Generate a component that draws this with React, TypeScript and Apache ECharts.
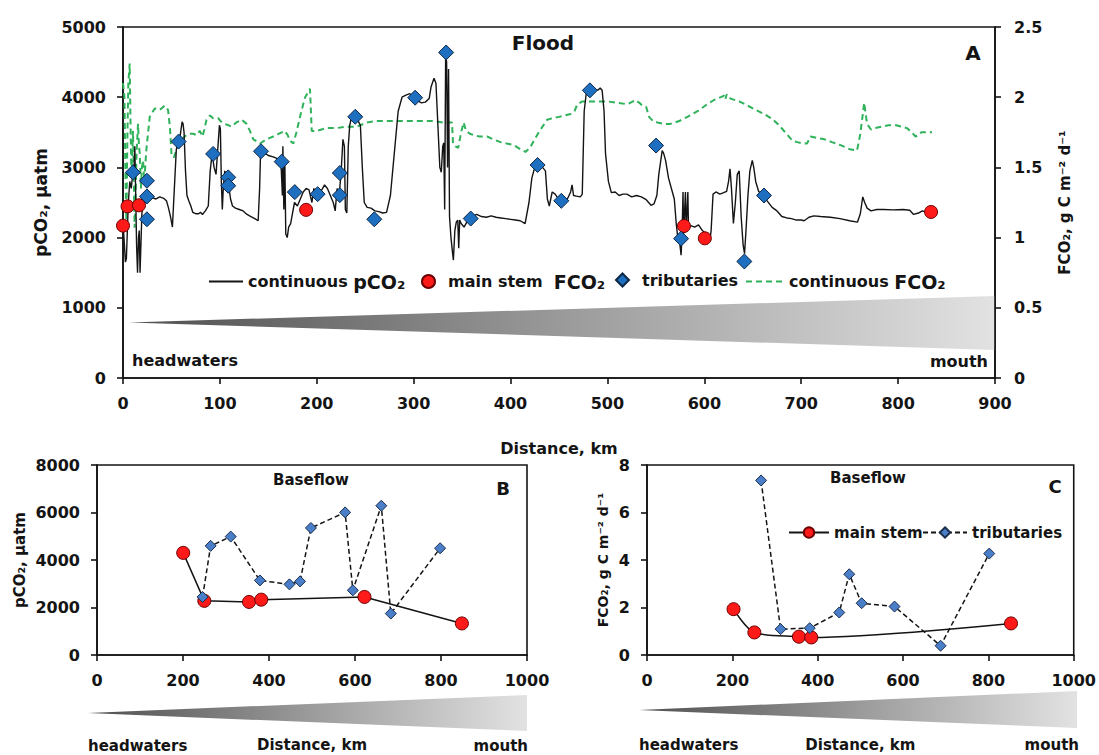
import React, { useEffect, useRef } from "react";
import * as echarts from "echarts";

// ---------- Panel A: flood survey (distance km, value) ----------
const floodPco2Line: [number, number][] = [
  [0, 2200], [1, 2000], [2.5, 1650], [3.5, 1700], [4.5, 2100], [5.5, 2500], [7, 2800], [8.5, 2700],
  [10, 2900], [11.5, 3050], [12.2, 3300], [13, 2700], [14, 1900], [15, 1500], [16, 2000], [16.8, 2100],
  [17.6, 1500], [18.5, 1900], [19.5, 2350], [21, 2450], [23, 2560], [26, 2580], [30, 2570], [34, 2550],
  [38, 2580], [42, 2560], [45, 2520], [47, 2420], [49, 2300], [51, 2150], [53, 2700], [55, 3250],
  [57, 3400], [59, 3450], [61, 3650], [62, 3620], [63, 3500], [64.5, 2950], [66, 2600], [68, 2520],
  [70, 2450], [72, 2360], [75, 2340], [78, 2340], [80, 2360], [82, 2330], [85, 2380], [88, 2450],
  [90, 2950], [92, 3200], [94, 3000], [96, 2900], [98, 3300], [99.5, 3600], [100.5, 3550], [101.5, 2800],
  [102.5, 2400], [103.5, 2700], [105, 2950], [107, 2880], [109, 2750], [111, 2550], [113, 2450], [116, 2420],
  [120, 2400], [124, 2380], [128, 2330], [132, 2300], [136, 2270], [139.5, 2240], [141, 2700], [142, 3230],
  [145, 3210], [150, 3170], [155, 3150], [160, 3120], [163, 3080], [164.5, 2600], [165, 3300], [166, 2400],
  [167, 3100], [168, 2050], [169.5, 2000], [171, 2150], [173, 2200], [175, 2350], [177, 2500], [180, 2450],
  [183, 2550], [186, 2650], [189, 2700], [192, 2680], [195, 2500], [197, 2700], [200, 2620], [204, 2650],
  [208, 2750], [211, 2700], [214, 2600], [217, 2500], [219, 2380], [221, 2700], [223, 2600], [225, 2900],
  [227, 3400], [228.5, 3300], [229.5, 2400], [231, 2350], [232.5, 3300], [234, 3600], [236, 3720], [239, 3700],
  [242, 3680], [245, 3600], [247, 3000], [249, 2500], [252, 2430], [256, 2420], [260, 2380], [264, 2370],
  [268, 2350], [272, 2360], [276, 2600], [280, 3200], [284, 3800], [288, 4000], [292, 4030], [296, 4050],
  [300, 4000], [304, 3950], [308, 3920], [312, 3930], [316, 3980], [318, 4150], [321, 4270], [323, 4200],
  [325, 3600], [327, 3000], [328.5, 2930], [330, 3300], [331, 3350], [332, 2400], [333, 4600], [334, 4500],
  [335, 3000], [336, 4400], [337, 2300], [338.5, 2000], [340, 1800], [341, 1680], [342.5, 2100], [344, 2220],
  [345.5, 2250], [346.5, 1850], [347.5, 2250], [349, 2200], [352, 2150], [356, 2250], [360, 2300], [365, 2330],
  [370, 2300], [375, 2290], [380, 2310], [385, 2290], [390, 2280], [395, 2270], [400, 2260], [405, 2250],
  [410, 2240], [415, 2200], [419, 2500], [422, 2850], [425, 3000], [430, 3050], [433, 3000], [436, 2950],
  [438, 2550], [440, 2450], [443, 2650], [446, 2620], [449, 2560], [452, 2540], [455, 2530], [459, 2560],
  [462, 2650], [463.5, 2750], [465, 2600], [468, 2590], [472, 2580], [474, 2620], [476, 3800], [478.5, 4100],
  [482, 4100], [486, 4110], [490, 4100], [492.5, 4130], [494.5, 4100], [496.5, 3800], [498, 3200], [501, 2800],
  [504, 2640], [508, 2650], [512, 2600], [516, 2620], [520, 2620], [525, 2580], [530, 2600], [535, 2580],
  [540, 2540], [545, 2460], [548, 2480], [551, 2600], [553, 2900], [556.5, 3240], [558, 3200], [560, 3100],
  [563, 2850], [566, 2700], [569, 2550], [571, 2200], [573, 1950], [574, 2000], [576, 1750], [577, 2050],
  [578, 2650], [578.6, 2050], [580.5, 2650], [581.2, 2100], [583, 2650], [583.6, 2150], [586, 2170], [590, 2150],
  [594, 2180], [598, 2100], [602, 2050], [604, 1960], [605.5, 1940], [607, 2100], [609, 2620], [612, 2650],
  [616, 2620], [620, 2640], [623, 2660], [625, 2800], [626.5, 2980], [628, 2700], [630, 2200], [632, 2500],
  [634, 2900], [636, 2950], [638, 2300], [640, 1900], [641.5, 1770], [643, 2100], [645, 2600], [647, 2950],
  [649.5, 3100], [651, 3000], [653, 2800], [656, 2660], [660, 2600], [665, 2520], [670, 2430], [675, 2380],
  [680, 2300], [685, 2280], [690, 2270], [695, 2250], [700, 2250], [703, 2240], [708, 2290], [713, 2310],
  [720, 2300], [730, 2290], [740, 2270], [750, 2240], [758, 2220], [761, 2340], [763.5, 2580], [765.5, 2500],
  [768, 2420], [772, 2380], [778, 2400], [785, 2400], [795, 2395], [805, 2400], [812, 2390], [816, 2330],
  [821, 2350], [825, 2380], [830, 2360], [834, 2370],
];

const floodFco2Line: [number, number][] = [
  [0, 2.1], [1.5, 2.0], [2.5, 1.45], [3.5, 1.12], [4.5, 1.7], [5.5, 2.1], [6.9, 2.24], [7.8, 1.8],
  [8.7, 1.43], [9.5, 1.6], [10.3, 1.76], [11.2, 1.4], [12, 1.07], [13, 1.3], [14, 1.6], [15.5, 1.81],
  [16.5, 1.65], [17.3, 1.6], [18.5, 1.35], [19.5, 1.5], [20.7, 1.55], [22, 1.4], [24, 1.62], [27.6, 1.86],
  [32.8, 1.92], [38, 1.91], [43, 1.94], [46.5, 1.91], [48.5, 1.78], [50, 1.6], [52.4, 1.57], [55, 1.62],
  [58.6, 1.67], [62, 1.71], [65.5, 1.73], [69, 1.74], [72.4, 1.74], [76, 1.73], [79.3, 1.76], [82, 1.72],
  [84, 1.77], [86.2, 1.84], [89.7, 1.87], [93, 1.85], [98.2, 1.85], [102, 1.82], [105, 1.81], [109, 1.8],
  [112, 1.79], [117, 1.82], [122.4, 1.84], [127.6, 1.81], [131, 1.76], [134.5, 1.7], [141.4, 1.67], [148, 1.7],
  [155, 1.72], [161, 1.74], [167, 1.76], [170, 1.73], [172.4, 1.69], [175.8, 1.67], [179, 1.75], [182.7, 1.86],
  [186, 1.95], [188, 2.0], [193, 2.06], [194.8, 1.76], [200, 1.76], [210, 1.78], [220, 1.78], [231, 1.79],
  [241, 1.79], [251.7, 1.82], [260, 1.83], [270, 1.83], [280, 1.83], [293, 1.83], [305, 1.83], [320, 1.83],
  [330, 1.82], [339.6, 1.82], [340.6, 1.67], [343, 1.65], [346, 1.64], [349, 1.75], [351.6, 1.82], [354, 1.76],
  [358, 1.74], [362, 1.73], [368, 1.72], [375.8, 1.72], [382, 1.7], [389.6, 1.68], [396, 1.67], [403, 1.66],
  [410, 1.63], [415.4, 1.61], [420, 1.64], [424, 1.69], [430, 1.76], [437.8, 1.84], [443, 1.85], [449.8, 1.86],
  [456, 1.87], [462, 1.88], [466, 1.9], [469, 1.95], [474, 1.97], [479, 1.97], [490, 1.97], [500, 1.97],
  [510, 1.96], [520.6, 1.95], [529, 1.98], [533, 1.96], [536, 1.94], [540, 1.93], [543, 1.86], [547, 1.83],
  [551.6, 1.82], [558, 1.81], [565, 1.81], [574, 1.83], [582.6, 1.86], [593, 1.9], [603, 1.95], [610, 1.98],
  [617, 2.0], [620, 2.01], [621, 2.02], [622, 1.99], [623, 2.02], [627, 1.99], [636, 1.97], [644.7, 1.94],
  [653, 1.91], [661.8, 1.88], [669, 1.85], [675.7, 1.81], [681, 1.77], [686, 1.73], [691, 1.69], [696, 1.68],
  [702, 1.67], [706, 1.67], [709.6, 1.72], [716, 1.71], [724, 1.7], [731.7, 1.68], [740, 1.66], [750, 1.63],
  [757.6, 1.62], [761, 1.74], [763, 1.85], [765, 1.96], [766.5, 1.88], [768, 1.81], [772, 1.77], [776, 1.78],
  [783, 1.79], [790, 1.8], [798, 1.8], [804, 1.79], [809, 1.78], [814, 1.75], [818, 1.72], [821, 1.73],
  [824, 1.75], [830, 1.75], [835, 1.75],
];

const floodMainKm = [0, 4.7, 16.5, 189, 579, 600.5, 834];
const floodMainPco2 = [2170, 2445, 2460, 2395, 2165, 1990, 2365];

const floodTribKm = [10.2, 24.7, 24.7, 24.7, 57.4, 93, 108.6, 108.6, 142.4, 163.8, 177.3, 200.9, 223.8,
  223.8, 239.7, 259.4, 301.5, 333.5, 358.9, 427.9, 452.4, 481.9, 550.2, 576, 641.3, 661.6];
const floodTribPco2 = [2929, 2810, 2586, 2261, 3368, 3192, 2858, 2739, 3230, 3082, 2648, 2619, 2920,
  2605, 3721, 2261, 3993, 4637, 2271, 3034, 2524, 4098, 3311, 1985, 1660, 2600];

// ---------- Panel B: baseflow pCO2 ----------
const baseMainKm = [200.5, 249.6, 353.5, 382, 622, 848.6];
const baseMainPco2 = [4300, 2280, 2235, 2330, 2445, 1330];
const baseTribKm = [245.5, 264.3, 311, 378.9, 447.6, 472.2, 497.5, 577, 595, 661.2, 683.3, 797.9];
const baseTribPco2 = [2445, 4595, 4985, 3140, 2975, 3100, 5350, 6005, 2725, 6285, 1745, 4495];

// ---------- Panel C: baseflow FCO2 ----------
const baseMainFco2Km = [202.8, 251.6, 356, 385, 853];
const baseMainFco2 = [1.93, 0.95, 0.77, 0.74, 1.33];
const baseTribFco2Km = [267.3, 313, 381.3, 450.5, 474, 503, 580, 688, 802];
const baseTribFco2 = [7.35, 1.09, 1.13, 1.79, 3.4, 2.18, 2.04, 0.39, 4.27];

const FF = '"DejaVu Sans", sans-serif';
const INK = "#141414";
const RED = "#ff1a1a";
const BLUE_A = "#1f6fc0";
const BLUE_B = "#4a7ec8";
const GREEN = "#2fb25a";

const zip = (xs: number[], ys: number[]) => xs.map((x, i) => [x, ys[i]]);

const lbl = (size: number, margin: number) => ({
  fontFamily: FF, fontWeight: "bold" as const, fontSize: size, color: INK, margin,
  formatter: (v: number) => String(v),
});
const nameStyle = (size: number) => ({ fontFamily: FF, fontWeight: "bold" as const, fontSize: size, color: INK });
const axLine = { show: true, onZero: false, lineStyle: { color: INK, width: 1.6 } };
const tick = { show: true, length: 6, lineStyle: { color: INK, width: 1.6 } };
const noSplit = { show: false };

const wedge = (tipX: number, tipY: number, rightX: number, topY: number, botY: number) => ({
  type: "polygon",
  silent: true,
  z: 0,
  shape: { points: [[tipX, tipY], [rightX, topY], [rightX, botY]] },
  style: {
    fill: new echarts.graphic.LinearGradient(0, 0, 1, 0, [
      { offset: 0, color: "#4f4f4f" },
      { offset: 0.5, color: "#9a9a9a" },
      { offset: 1, color: "#e2e2e2" },
    ]),
  },
});

const txt = (text: string, x: number, y: number, size: number, align = "left") => ({
  type: "text",
  silent: true,
  x,
  y,
  style: { text, fontFamily: FF, fontWeight: "bold", fontSize: size, fill: INK, align, verticalAlign: "middle" },
});

const legendRichA = {
  t: { fontFamily: FF, fontWeight: "bold", fontSize: 16, color: INK },
  tp: { fontFamily: FF, fontWeight: "bold", fontSize: 16, color: INK, padding: [0, 0, 0, 8] },
  b: { fontFamily: FF, fontWeight: "bold", fontSize: 19, color: INK },
};
const legendLabels: Record<string, string> = {
  "continuous pCO2": "{t|continuous }{b|pCO₂}",
  "main stem FCO2": "{tp|main stem  }{b|FCO₂}",
  tributaries: "{tp|tributaries}",
  "continuous FCO2": "{t|continuous }{b|FCO₂}",
  "main stem": "main stem",
  "baseflow tributaries": "tributaries",
};

const legendA = (name: string, left: number, itemWidth: number, lineOnly = false) => ({
  data: [name],
  left,
  top: 272,
  padding: 0,
  itemWidth,
  itemHeight: 13,
  selectedMode: false,
  formatter: (n: string) => legendLabels[n],
  textStyle: { rich: legendRichA, color: INK },
  ...(lineOnly ? { itemStyle: { opacity: 0 } } : {}),
});
const legendC = (name: string, left: number, itemWidth: number) => ({
  data: [name],
  left,
  top: 525,
  padding: 0,
  itemWidth,
  itemHeight: 13,
  selectedMode: false,
  formatter: (n: string) => legendLabels[n],
  textStyle: { fontFamily: FF, fontWeight: "bold", fontSize: 15, color: INK },
});

function buildOption() {
  return {
    animation: false,
    backgroundColor: "#ffffff",
    grid: [
      { left: 123, top: 27, width: 872, height: 351, show: true, borderColor: INK, borderWidth: 1.6 },
      { left: 97, top: 465, width: 430, height: 190, show: true, borderColor: INK, borderWidth: 1.6 },
      { left: 647, top: 465, width: 430, height: 190, show: true, borderColor: INK, borderWidth: 1.6 },
    ],
    xAxis: [
      {
        type: "value", gridIndex: 0, min: 0, max: 900, interval: 100,
        axisLine: axLine, axisTick: tick, splitLine: noSplit, axisLabel: lbl(16, 17),
        name: "Distance, km", nameLocation: "middle", nameGap: 62, nameTextStyle: nameStyle(16),
      },
      {
        type: "value", gridIndex: 1, min: 0, max: 1000, interval: 200,
        axisLine: axLine, axisTick: tick, splitLine: noSplit, axisLabel: lbl(16, 17),
        name: "Distance, km", nameLocation: "middle", nameGap: 82, nameTextStyle: nameStyle(15),
      },
      {
        type: "value", gridIndex: 2, min: 0, max: 1000, interval: 200,
        axisLine: axLine, axisTick: tick, splitLine: noSplit, axisLabel: lbl(16, 17),
        name: "Distance, km", nameLocation: "middle", nameGap: 82, nameTextStyle: nameStyle(15),
      },
    ],
    yAxis: [
      {
        type: "value", gridIndex: 0, min: 0, max: 5000, interval: 1000,
        axisLine: axLine, axisTick: tick, splitLine: noSplit, axisLabel: lbl(16, 17),
        name: "pCO₂, µatm", nameLocation: "middle", nameGap: 74, nameRotate: 90, nameTextStyle: nameStyle(17),
      },
      {
        type: "value", gridIndex: 0, position: "right", min: 0, max: 2.5, interval: 0.5,
        axisLine: axLine, axisTick: tick, splitLine: noSplit, axisLabel: lbl(16, 19),
        name: "FCO₂, g C m⁻² d⁻¹", nameLocation: "middle", nameGap: 62, nameRotate: 90, nameTextStyle: nameStyle(15),
      },
      {
        type: "value", gridIndex: 1, min: 0, max: 8000, interval: 2000,
        axisLine: axLine, axisTick: tick, splitLine: noSplit, axisLabel: lbl(16, 17),
        name: "pCO₂, µatm", nameLocation: "middle", nameGap: 70, nameRotate: 90, nameTextStyle: nameStyle(15),
      },
      {
        type: "value", gridIndex: 2, min: 0, max: 8, interval: 2,
        axisLine: axLine, axisTick: tick, splitLine: noSplit, axisLabel: lbl(16, 17),
        name: "FCO₂, g C m⁻² d⁻¹", nameLocation: "middle", nameGap: 37, nameRotate: 90, nameTextStyle: nameStyle(14),
      },
    ],
    legend: [
      legendA("continuous pCO2", 208, 34, true),
      legendA("main stem FCO2", 421, 13),
      legendA("tributaries", 615, 13),
      legendA("continuous FCO2", 745, 38, true),
      legendC("main stem", 788, 40),
      legendC("baseflow tributaries", 922, 44),
    ],
    series: [
      {
        name: "continuous FCO2", type: "line", xAxisIndex: 0, yAxisIndex: 1, data: floodFco2Line,
        symbol: "none", z: 2, lineStyle: { color: GREEN, width: 2, type: [6, 4] }, itemStyle: { color: GREEN },
      },
      {
        name: "continuous pCO2", type: "line", xAxisIndex: 0, yAxisIndex: 0, data: floodPco2Line,
        symbol: "none", z: 3, lineStyle: { color: INK, width: 1.4 }, itemStyle: { color: INK },
      },
      {
        name: "main stem FCO2", type: "scatter", xAxisIndex: 0, yAxisIndex: 0, data: zip(floodMainKm, floodMainPco2),
        symbol: "circle", symbolSize: 13, z: 5, itemStyle: { color: RED, borderColor: "#6a0000", borderWidth: 1, opacity: 1 },
      },
      {
        name: "tributaries", type: "scatter", xAxisIndex: 0, yAxisIndex: 0, data: zip(floodTribKm, floodTribPco2),
        symbol: "diamond", symbolSize: 15, z: 6, itemStyle: { color: BLUE_A, borderColor: "#0c2746", borderWidth: 1, opacity: 1 },
      },
      {
        name: "main stem", type: "line", xAxisIndex: 1, yAxisIndex: 2, data: zip(baseMainKm, baseMainPco2),
        symbol: "circle", symbolSize: 13, z: 4, lineStyle: { color: INK, width: 1.5 },
        itemStyle: { color: RED, borderColor: "#6a0000", borderWidth: 1 },
      },
      {
        name: "baseflow tributaries", type: "line", xAxisIndex: 1, yAxisIndex: 2, data: zip(baseTribKm, baseTribPco2),
        symbol: "diamond", symbolSize: 11, z: 5, lineStyle: { color: INK, width: 1.5, type: [5, 3] },
        itemStyle: { color: BLUE_B, borderColor: "#1b2f4d", borderWidth: 1 },
      },
      {
        name: "main stem", type: "line", xAxisIndex: 2, yAxisIndex: 3, data: zip(baseMainFco2Km, baseMainFco2),
        symbol: "circle", symbolSize: 13, z: 4, smooth: 0.3, lineStyle: { color: INK, width: 1.5 },
        itemStyle: { color: RED, borderColor: "#6a0000", borderWidth: 1 },
      },
      {
        name: "baseflow tributaries", type: "line", xAxisIndex: 2, yAxisIndex: 3, data: zip(baseTribFco2Km, baseTribFco2),
        symbol: "diamond", symbolSize: 11, z: 5, lineStyle: { color: INK, width: 1.5, type: [5, 3] },
        itemStyle: { color: BLUE_B, borderColor: "#1b2f4d", borderWidth: 1 },
      },
    ],
    graphic: [
      wedge(129, 322.5, 995, 296, 350),
      wedge(88, 713, 527, 695, 731),
      wedge(639, 710, 1077, 691, 728),
      txt("Flood", 543, 43, 20, "center"),
      txt("A", 973, 53, 20, "center"),
      txt("headwaters", 132, 360, 16),
      txt("mouth", 988, 361, 16, "right"),
      txt("Baseflow", 311, 480, 15, "center"),
      txt("B", 503, 488, 18, "center"),
      txt("Baseflow", 868, 478, 15, "center"),
      txt("C", 1055, 486, 18, "center"),
      txt("headwaters", 88, 746, 15),
      txt("mouth", 528, 746, 15, "right"),
      txt("headwaters", 639, 745, 15),
      txt("mouth", 1079, 745, 15, "right"),
    ],
  };
}

export default function App() {
  const ref = useRef<HTMLDivElement>(null);
  useEffect(() => {
    if (!ref.current) return;
    const chart = echarts.init(ref.current, undefined, { renderer: "svg" });
    chart.setOption(buildOption() as any);
    return () => chart.dispose();
  }, []);
  return (
    <div
      ref={ref}
      style={{ position: "absolute", left: 0, top: 0, width: 1099, height: 755, background: "#fff" }}
    />
  );
}
